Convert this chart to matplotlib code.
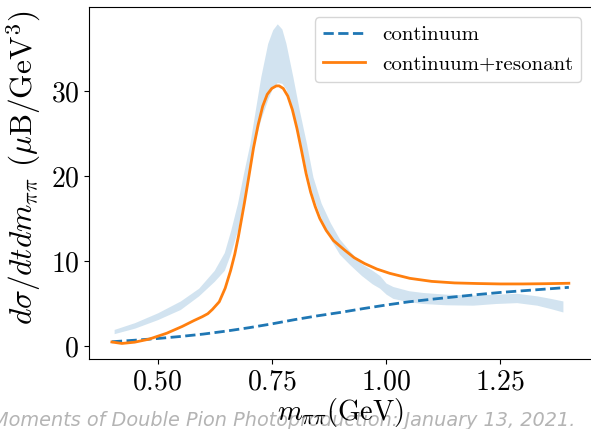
import matplotlib
matplotlib.use("Agg")
import matplotlib.pyplot as plt

plt.rcParams.update({
    "font.family": "serif",
    "font.serif": ["cmr10"],
    "mathtext.fontset": "cm",
    "axes.formatter.use_mathtext": True,
})

# continuum-only model
x_cont = [0.40, 0.45, 0.50, 0.55, 0.60, 0.65, 0.70, 0.75, 0.80, 0.85, 0.90,
          0.95, 1.00, 1.05, 1.10, 1.15, 1.20, 1.25, 1.30, 1.35, 1.40]
y_cont = [0.50, 0.68, 0.88, 1.12, 1.40, 1.75, 2.15, 2.60, 3.10, 3.55, 3.95,
          4.40, 4.82, 5.20, 5.50, 5.78, 6.05, 6.30, 6.50, 6.70, 6.90]

# continuum + resonant model
x_res = [0.400, 0.422, 0.450, 0.481, 0.520, 0.554, 0.580, 0.598, 0.610, 0.620,
         0.635, 0.648, 0.660, 0.669, 0.677, 0.690, 0.700, 0.710, 0.720, 0.730,
         0.740, 0.750, 0.760, 0.766, 0.775, 0.785, 0.795, 0.805, 0.815, 0.825,
         0.835, 0.845, 0.855, 0.869, 0.885, 0.909, 0.930, 0.953, 0.980, 1.008,
         1.052, 1.100, 1.150, 1.200, 1.250, 1.300, 1.350, 1.400]
y_res = [0.47, 0.30, 0.45, 0.80, 1.50, 2.30, 3.00, 3.45, 3.80, 4.30,
         5.20, 6.80, 8.90, 10.8, 12.9, 16.8, 20.0, 23.3, 26.0, 28.2,
         29.6, 30.3, 30.6, 30.6, 30.3, 29.4, 27.8, 25.6, 23.0, 20.3,
         18.1, 16.4, 15.0, 13.6, 12.4, 11.3, 10.4, 9.70, 9.05, 8.55,
         7.96, 7.60, 7.42, 7.35, 7.30, 7.30, 7.33, 7.38]

# data-driven uncertainty band
x_band = [0.405, 0.45, 0.50, 0.55, 0.59, 0.624, 0.646, 0.660, 0.675, 0.688,
          0.702, 0.714, 0.726, 0.741, 0.752, 0.762, 0.772, 0.781, 0.796, 0.810,
          0.826, 0.840, 0.858, 0.878, 0.898, 0.920, 0.946, 0.970, 0.986, 1.000,
          1.015, 1.05, 1.08, 1.13, 1.19, 1.24, 1.286, 1.33, 1.36, 1.387]
band_hi = [1.95, 2.75, 3.9, 5.3, 6.8, 8.9, 11.0, 13.6, 16.8, 20.3,
           23.8, 27.8, 31.7, 35.6, 37.2, 37.9, 37.3, 35.6, 31.7, 27.8,
           23.8, 19.9, 16.8, 14.5, 12.6, 11.2, 9.7, 8.9, 8.3, 7.4,
           7.0, 6.5, 6.3, 6.1, 6.0, 6.1, 6.2, 5.9, 5.6, 5.3]
band_lo = [1.45, 2.1, 3.1, 4.3, 5.9, 7.6, 8.9, 10.9, 13.6, 17.2,
           21.5, 24.3, 26.7, 29.0, 30.4, 31.0, 30.9, 30.2, 27.8, 24.6,
           20.6, 17.6, 15.0, 12.6, 10.8, 9.6, 8.3, 7.3, 6.8, 6.1,
           5.6, 5.2, 5.0, 4.85, 4.8, 5.0, 5.1, 4.8, 4.4, 4.0]

x_ticks = [0.50, 0.75, 1.00, 1.25]
y_ticks = [0, 10, 20, 30]

fig = plt.figure(figsize=(5.91, 4.29), dpi=100)
ax = fig.add_axes([89 / 591, 70 / 429, 502.7 / 591, 352 / 429])

ax.fill_between(x_band, band_lo, band_hi, color="C0", alpha=0.2, lw=0)
ax.plot(x_cont, y_cont, "--", color="C0", lw=2, label="continuum")
ax.plot(x_res, y_res, "-", color="C1", lw=2, label="continuum+resonant")

ax.set_xlim(0.35, 1.45)
ax.set_ylim(-1.53, 39.88)
ax.set_xticks(x_ticks)
ax.set_yticks(y_ticks)
ax.tick_params(labelsize=20)

ax.set_xlabel(r"$m_{\pi\pi}$(GeV)", fontsize=20.5)
ax.xaxis.set_label_coords(0.5, -0.105)
ax.set_ylabel(r"$d\sigma/dtdm_{\pi\pi}$ ($\mu$B/GeV$^3$)", fontsize=22.5)
ax.yaxis.set_label_coords(-0.092, 0.543)

ax.legend(loc="upper right", fontsize=15)

fig.text(-0.014, 0.006, "Moments of Double Pion Photoproduction: January 13, 2021.",
         fontsize=13.85, style="italic", family="DejaVu Sans", color="#b4b4b4",
         ha="left", va="baseline", zorder=-1)

fig.savefig("out.png", dpi=100)
